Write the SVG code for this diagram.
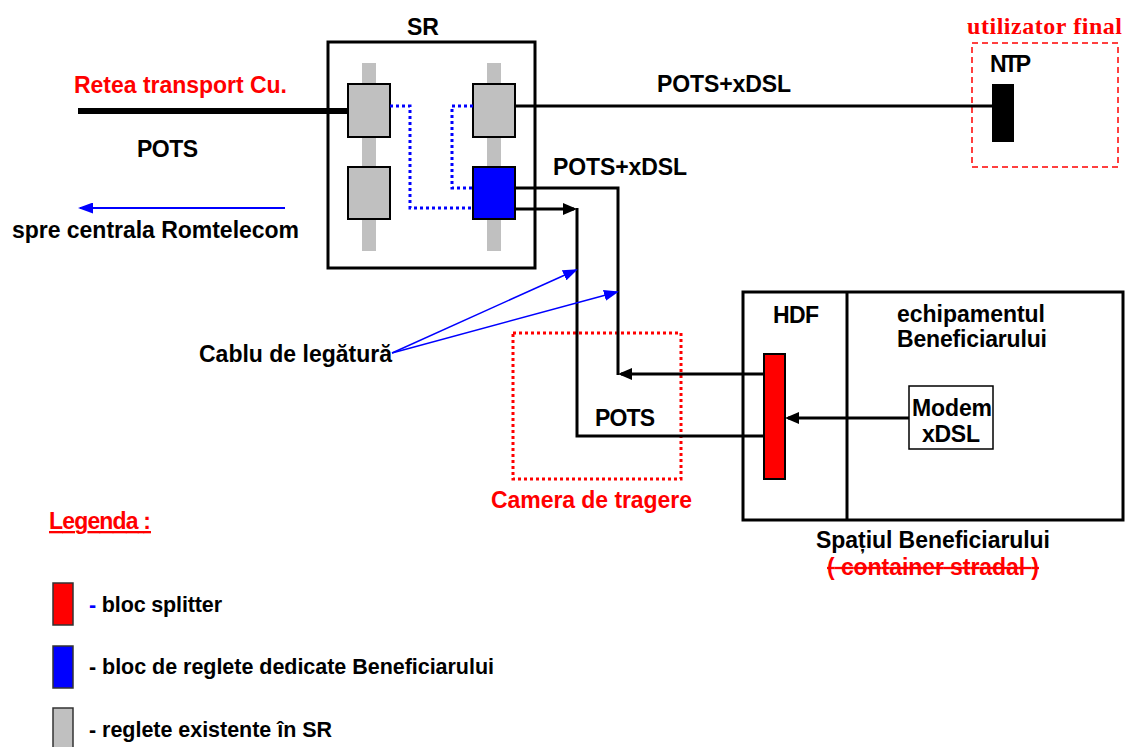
<svg xmlns="http://www.w3.org/2000/svg" width="1125" height="747" viewBox="0 0 1125 747">
<style>
.t{font-family:"Liberation Sans",Arial,sans-serif;font-weight:bold;font-size:23px;fill:#000}
.lg{font-size:21.5px}
.r{fill:#FF0000}
.box{fill:#fff;stroke:#000;stroke-width:3}
.gray{fill:#C0C0C0;stroke:#000;stroke-width:2}
.bar{fill:#C0C0C0}
.ln{fill:none;stroke:#000;stroke-width:3}
.bdot{fill:none;stroke:#0000FF;stroke-width:3;stroke-dasharray:3 3}
.blu{fill:none;stroke:#0000FF}
</style>
<defs>
<marker id="ab" markerUnits="userSpaceOnUse" markerWidth="14" markerHeight="12" refX="11" refY="6" orient="auto">
<path d="M0,0 L14,6 L0,12 z" fill="#000"/>
</marker>
<marker id="abl" markerUnits="userSpaceOnUse" markerWidth="15" markerHeight="11" refX="13" refY="5.5" orient="auto">
<path d="M0,0 L15,5.5 L0,11 z" fill="#0000FF"/>
</marker>
</defs>
<rect width="1125" height="747" fill="#fff"/>

<g id="sr">
<text class="t" x="407" y="35" font-size="26">SR</text>
<rect class="box" x="328" y="42" width="207" height="226"/>
<rect class="bar" x="362" y="63" width="14" height="188"/>
<rect class="bar" x="487" y="63" width="14" height="188"/>
<rect class="gray" x="348" y="84" width="42" height="53"/>
<rect class="gray" x="348" y="167" width="42" height="52"/>
<rect class="gray" x="473" y="84" width="42" height="53"/>
<rect x="473" y="167" width="42" height="52" fill="#0000FF" stroke="#000" stroke-width="2"/>
</g>

<g id="ntp">
<text x="967" y="34" font-family="'Liberation Serif','Times New Roman',serif" font-weight="bold" font-size="24" fill="#FF0000" textLength="155">utilizator final</text>
<rect x="972" y="43" width="146" height="124" fill="none" stroke="#FF0000" stroke-width="1.5" stroke-dasharray="6 4"/>
<text class="t" x="990" y="72" textLength="41">NTP</text>
<rect x="992" y="84" width="22" height="58" fill="#000"/>
</g>

<g id="beneficiar">
<rect class="box" x="743" y="292" width="380" height="228"/>
<line x1="847" y1="292" x2="847" y2="520" stroke="#000" stroke-width="3"/>
<text class="t" x="773" y="323" textLength="46">HDF</text>
<text class="t" x="897" y="322" textLength="148">echipamentul</text>
<text class="t" x="897" y="347" textLength="150">Beneficiarului</text>
<rect x="764" y="354" width="21" height="125" fill="#FF0000" stroke="#000" stroke-width="2"/>
<g id="modem">
<rect x="909" y="386" width="84" height="63" fill="#fff" stroke="#000" stroke-width="1.5"/>
<text class="t" x="912" y="416" textLength="80">Modem</text>
<text class="t" x="922" y="442" textLength="58">xDSL</text>
</g>
<text class="t" x="816" y="548" textLength="234">Spațiul Beneficiarului</text>
<text class="t r" x="827" y="575" textLength="212" style="text-decoration:line-through">( container stradal )</text>
</g>

<g id="camera">
<rect x="513" y="333" width="168" height="146" fill="none" stroke="#FF0000" stroke-width="3" stroke-dasharray="3 3"/>
<text class="t r" x="491" y="508" textLength="201">Camera de tragere</text>
</g>

<g id="labels">
<text class="t r" x="74" y="93" textLength="213">Retea transport Cu.</text>
<text class="t" x="137" y="157" textLength="61">POTS</text>
<text class="t" x="12" y="238" textLength="287">spre centrala Romtelecom</text>
<text class="t" x="657" y="92" textLength="134">POTS+xDSL</text>
<text class="t" x="553" y="175" textLength="134">POTS+xDSL</text>
<text class="t" x="199" y="362" textLength="193">Cablu de legătură</text>
<text class="t" x="595" y="426" textLength="60">POTS</text>
</g>

<g id="connectors">
<line x1="78" y1="111" x2="348" y2="111" stroke="#000" stroke-width="6"/>
<line class="ln" x1="515" y1="106" x2="992" y2="106"/>
<path class="bdot" d="M390,106 H410 V208 H473"/>
<path class="bdot" d="M473,106 H452 V188 H473"/>
<path class="ln" d="M515,209 H574" marker-end="url(#ab)"/>
<path class="ln" d="M577,208 V436 H764"/>
<path class="ln" d="M515,188 H618 V375"/>
<path class="ln" d="M764,374 H621" marker-end="url(#ab)"/>
<path class="ln" d="M909,418 H788" marker-end="url(#ab)"/>
<path class="blu" stroke-width="2" d="M285,208 H80" marker-end="url(#abl)"/>
<path class="blu" stroke-width="1.5" d="M392,353 L576,270" marker-end="url(#abl)"/>
<path class="blu" stroke-width="1.5" d="M392,353 L617,292" marker-end="url(#abl)"/>
</g>

<g id="legend">
<text class="t r" x="49" y="529" textLength="102" style="text-decoration:underline">Legenda :</text>
<rect x="53" y="583" width="20" height="42" fill="#FF0000" stroke="#333" stroke-width="1.5"/>
<text class="t lg" x="89" y="612" textLength="133"><tspan fill="#0000FF">-</tspan> bloc splitter</text>
<rect x="53" y="646" width="20" height="42" fill="#0000FF" stroke="#333" stroke-width="1.5"/>
<text class="t lg" x="89" y="674" textLength="405">- bloc de reglete dedicate Beneficiarului</text>
<rect x="53" y="708" width="20" height="42" fill="#C0C0C0" stroke="#333" stroke-width="1.5"/>
<text class="t lg" x="89" y="737" textLength="243">- reglete existente în SR</text>
</g>
</svg>
